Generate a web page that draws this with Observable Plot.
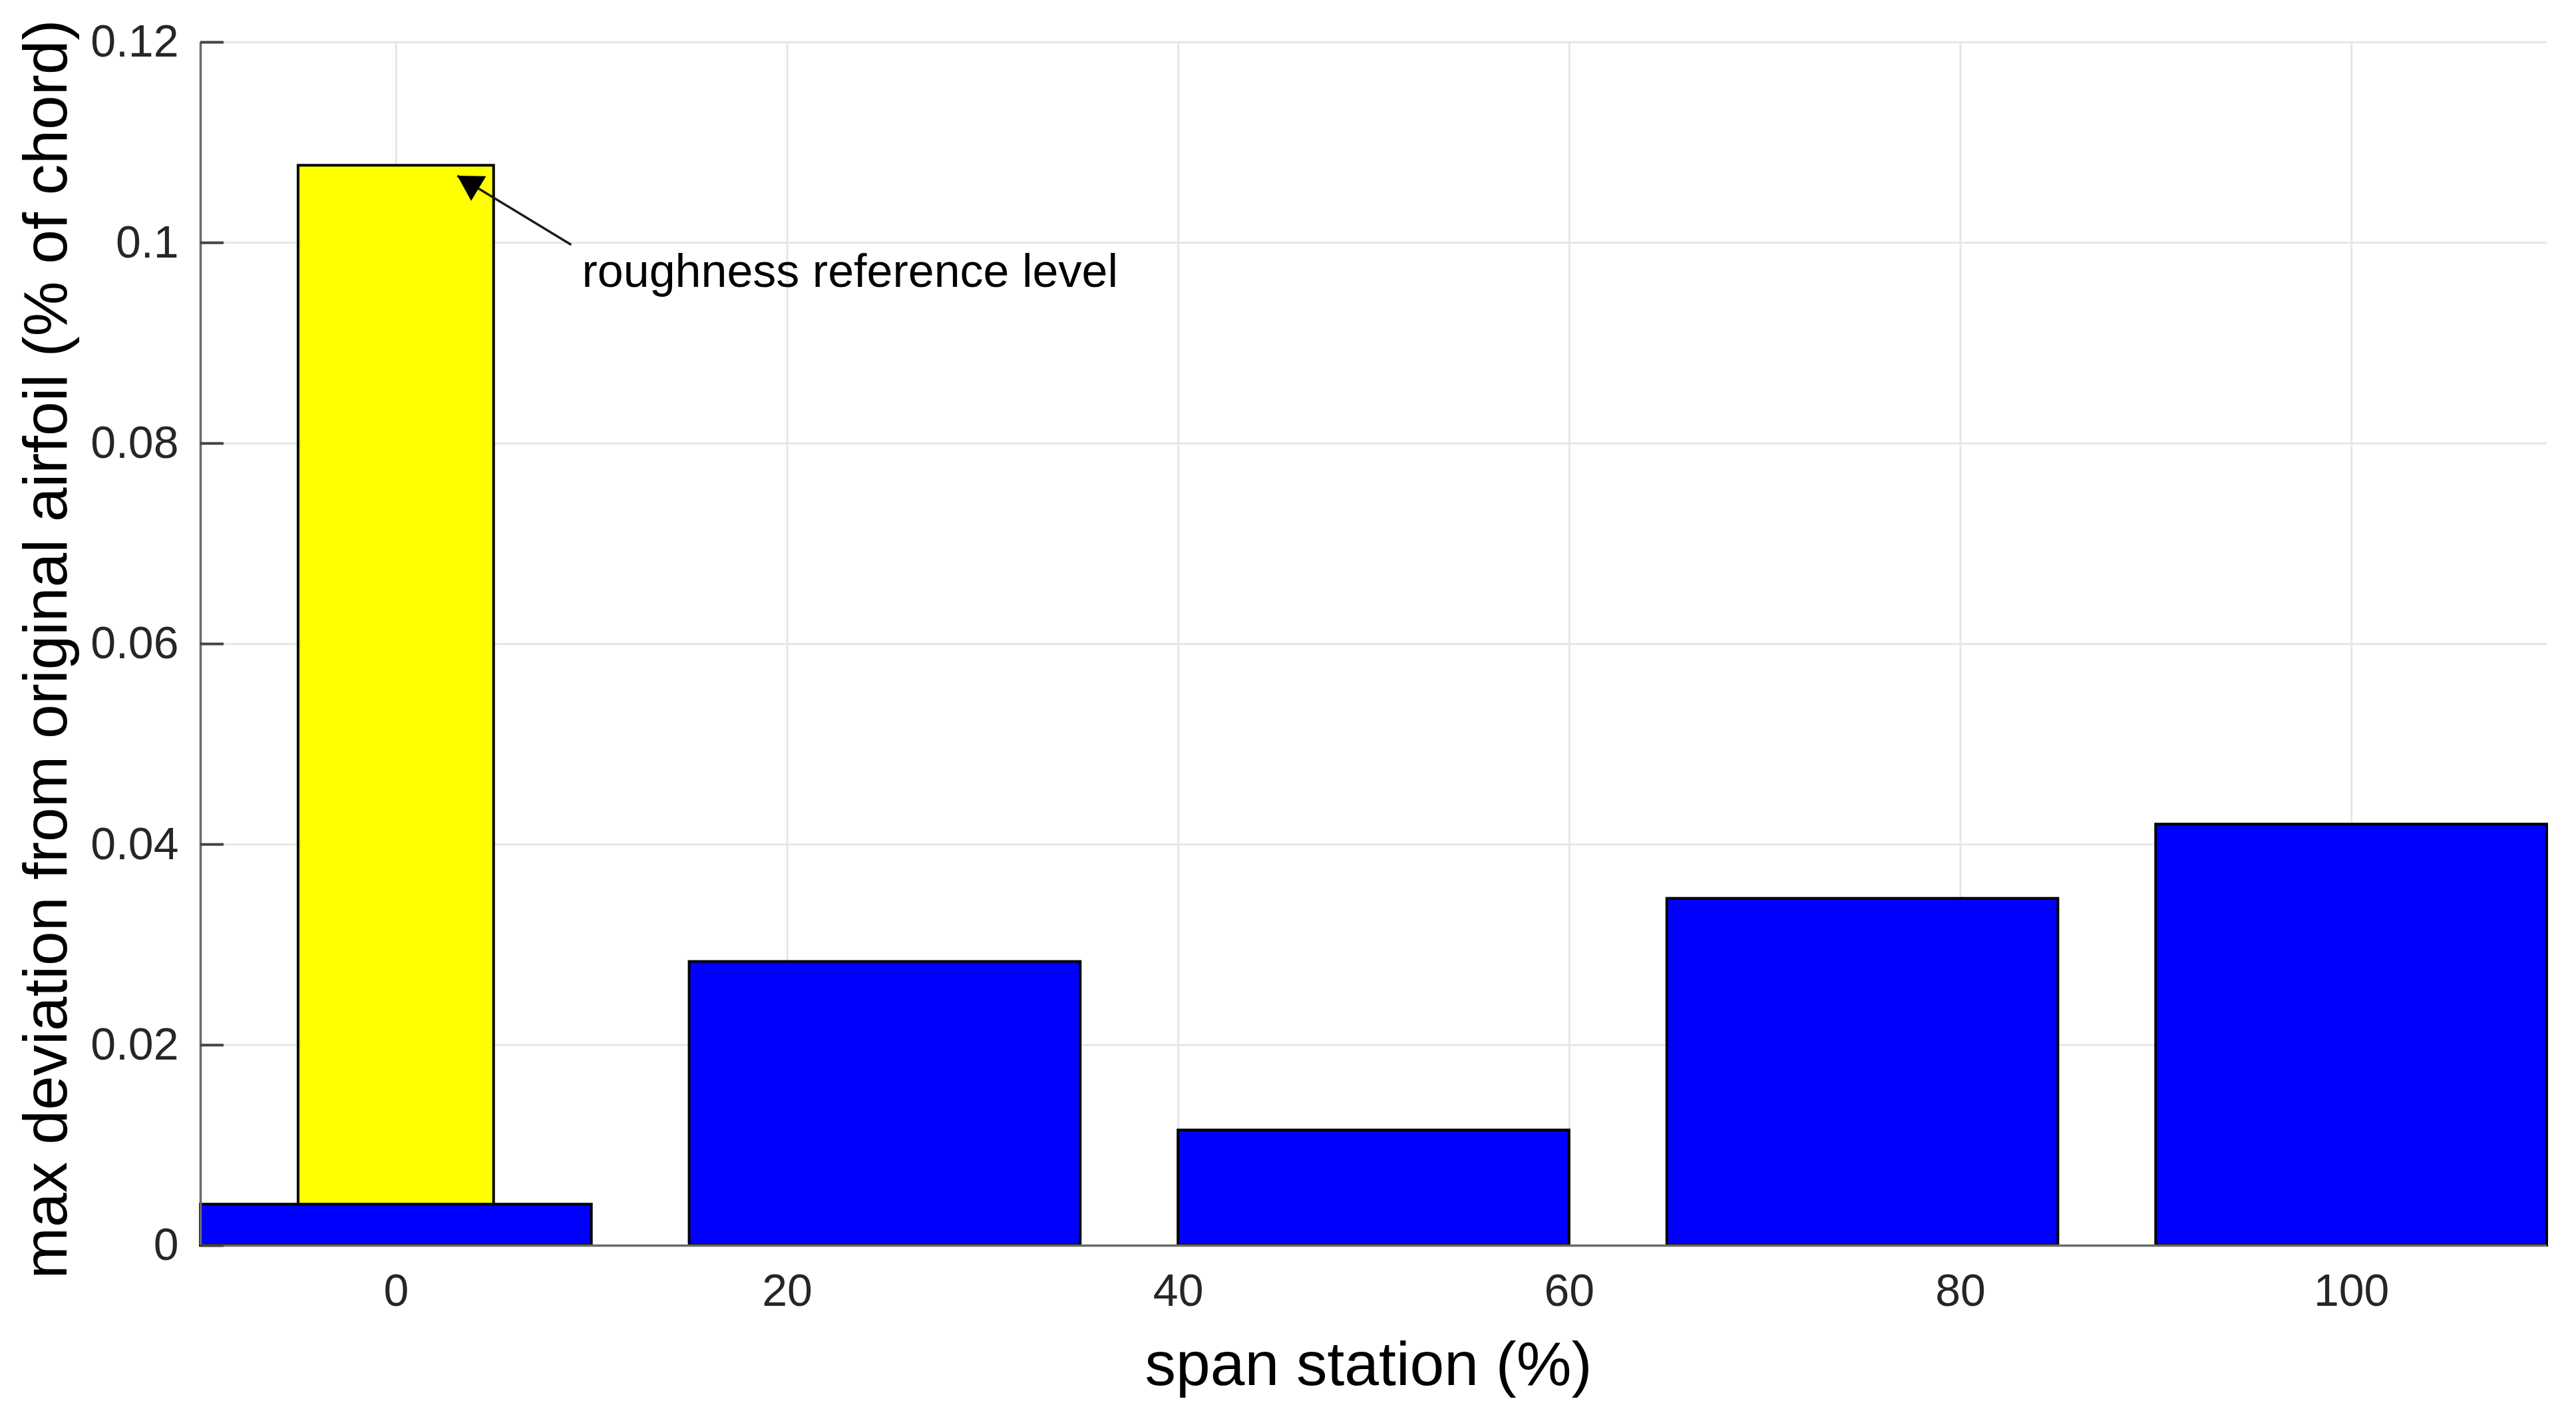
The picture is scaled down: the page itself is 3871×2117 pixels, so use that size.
<!DOCTYPE html>
<html>
<head>
<meta charset="utf-8">
<script src="https://cdn.jsdelivr.net/npm/d3@7"></script>
<script src="https://cdn.jsdelivr.net/npm/@observablehq/plot@0.6"></script>
<style>
  html, body { margin: 0; padding: 0; background: #ffffff; }
  #chart svg { display: block; }
  g[aria-label="y-axis tick label"], g[aria-label="x-axis tick label"] { font-size: 68px; fill: #262626; }
</style>
</head>
<body>
<div id="chart"></div>
<script>
// ---- data ----
const stations = [0, 25, 50, 75, 100];                       // span station (%) of each blue bar
const deviation = [0.0041, 0.0283, 0.0115, 0.0346, 0.0420];  // max deviation (% of chord)
const referenceStation = [0];                                // yellow bar position
const referenceLevel = [0.1077];                             // roughness reference level
const xTicks = [0, 20, 40, 60, 80, 100];
const xTickLabels = ["0", "20", "40", "60", "80", "100"];
const yTicks = [0, 0.02, 0.04, 0.06, 0.08, 0.1, 0.12];
const yTickLabels = ["0", "0.02", "0.04", "0.06", "0.08", "0.1", "0.12"];
const xDomain = [-10, 110];
const yDomain = [0, 0.12];
const xLabel = ["span station (%)"];
const yLabel = ["max deviation from original airfoil (% of chord)"];
const annotationText = ["roughness reference level"];
const arrowTail = [8.95, 0.0998];
const arrowTip = [3.13, 0.1067];
const annotationAnchor = [9.5, 0.0971];

// ---- layout ----
const W = 3871, H = 2117;
const ML = 301, MR = 44, MT = 63, MB = 246;
const barHalf = 10, refHalf = 5;

const blueBars = stations.map((s, i) => ({station: s, value: deviation[i]}));
const refBars = referenceStation.map((s, i) => ({station: s, value: referenceLevel[i]}));
const arrowData = [{x1: arrowTail[0], y1: arrowTail[1], x2: arrowTip[0], y2: arrowTip[1]}];
const noteData = annotationText.map(t => ({x: annotationAnchor[0], y: annotationAnchor[1], t}));

// arrow head orientation in pixels (via standalone scales)
const sx = Plot.scale({x: {domain: xDomain, range: [ML, W - MR]}});
const sy = Plot.scale({y: {domain: yDomain, range: [H - MB, MT]}});
const px1 = sx.apply(arrowTail[0]), py1 = sy.apply(arrowTail[1]);
const px2 = sx.apply(arrowTip[0]), py2 = sy.apply(arrowTip[1]);
const len = Math.hypot(px2 - px1, py2 - py1);
const ux = (px2 - px1) / len, uy = (py2 - py1) / len;
const headR = 16;
const tipDist = 2 * Math.sqrt((Math.PI * headR * headR) / (3 * Math.sqrt(3)));
const headAngle = Math.atan2(ux, -uy) * 180 / Math.PI;

const chart = Plot.plot({
  width: W,
  height: H,
  marginLeft: ML,
  marginRight: MR,
  marginTop: MT,
  marginBottom: MB,
  style: {fontFamily: "'Liberation Sans', Arial, Helvetica, sans-serif", background: "#ffffff", color: "#262626"},
  x: {domain: xDomain, axis: null},
  y: {domain: yDomain, axis: null},
  marks: [
    Plot.gridX(xTicks, {stroke: "#e6e6e6", strokeOpacity: 1, strokeWidth: 3}),
    Plot.gridY(yTicks, {stroke: "#e6e6e6", strokeOpacity: 1, strokeWidth: 3}),
    Plot.rectY(refBars, {x1: d => d.station - refHalf, x2: d => d.station + refHalf, y: "value", fill: "#ffff00", stroke: "#000000", strokeWidth: 4}),
    Plot.rectY(blueBars, {x1: d => d.station - barHalf, x2: d => d.station + barHalf, y: "value", fill: "#0000ff", stroke: "#000000", strokeWidth: 4}),
    Plot.ruleX([xDomain[0]], {stroke: "#6a6a6a", strokeWidth: 3.5}),
    Plot.ruleY([yDomain[0]], {stroke: "#6a6a6a", strokeWidth: 3.5}),
    Plot.axisY(yTicks, {
      anchor: "left",
      tickSize: -35,
      tickPadding: 68,
      stroke: "#444444",
      strokeWidth: 4,
      tickFormat: d => yTickLabels[yTicks.indexOf(d)],
      label: null
    }),
    Plot.axisX(xTicks, {
      anchor: "bottom",
      tickSize: 0,
      tickPadding: 42,
      tickFormat: d => xTickLabels[xTicks.indexOf(d)],
      label: null
    }),
    Plot.text(yLabel, {text: d => d, frameAnchor: "left", rotate: -90, lineAnchor: "top", textAnchor: "middle",
      dx: -268, dy: 8, fontSize: 93, fill: "#000000"}),
    Plot.text(xLabel, {text: d => d, frameAnchor: "bottom", lineAnchor: "bottom", textAnchor: "middle",
      dx: -8, dy: 209, fontSize: 93, fill: "#000000"}),
    Plot.link(arrowData, {x1: "x1", y1: "y1", x2: "x2", y2: "y2", stroke: "#1a1a1a", strokeWidth: 3.5}),
    Plot.dot(arrowData, {x: "x2", y: "y2", symbol: "triangle", r: headR, fill: "#000000", stroke: "none",
      rotate: headAngle, dx: -tipDist * ux, dy: -tipDist * uy}),
    Plot.text(noteData, {x: "x", y: "y", text: "t", textAnchor: "start", lineAnchor: "middle", fontSize: 70, fill: "#000000"})
  ]
});
document.getElementById("chart").appendChild(chart);
</script>
</body>
</html>
